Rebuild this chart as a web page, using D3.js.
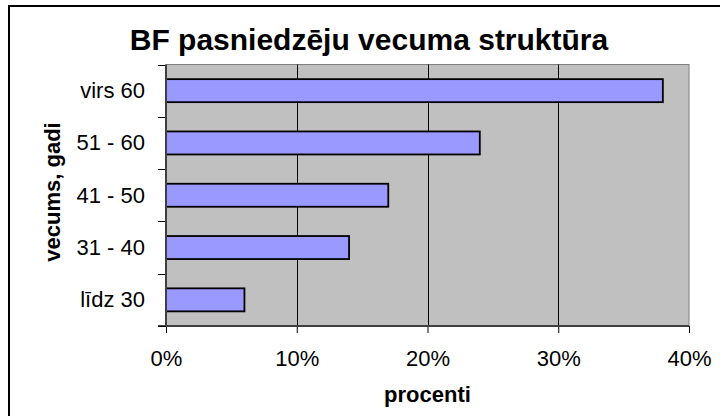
<!DOCTYPE html>
<html>
<head>
<meta charset="utf-8">
<script src="https://cdn.jsdelivr.net/npm/d3@7"></script>
<style>
  body { margin: 0; background: #fff; }
  text { font-family: "Liberation Sans", Arial, sans-serif; fill: #000; }
</style>
</head>
<body>
<div id="chart"></div>
<script>
// data (top to bottom)
var categories = ["virs 60", "51 - 60", "41 - 50", "31 - 40", "līdz 30"];
var values = [38, 24, 17, 14, 6];
var xTicks = [0, 10, 20, 30, 40];
var titleText = "BF pasniedzēju vecuma struktūra";
var xTitle = "procenti";
var yTitle = "vecums, gadi";

var width = 720, height = 416;
var plot = {left: 166, top: 64.5, right: 689, bottom: 326};

var svg = d3.select("#chart").append("svg")
    .attr("width", width)
    .attr("height", height);

// outer frame
svg.append("rect")
    .attr("x", 9).attr("y", 6)
    .attr("width", 740).attr("height", 440)
    .attr("fill", "#fff")
    .attr("stroke", "#000")
    .attr("stroke-width", 2);

var x = d3.scaleLinear().domain([0, 40]).range([plot.left, plot.right]);
var y = d3.scaleBand().domain(categories)
    .range([plot.top, plot.bottom])
    .paddingInner(0.56)
    .paddingOuter(0.28);

// plot area
svg.append("rect")
    .attr("x", plot.left).attr("y", plot.top)
    .attr("width", plot.right - plot.left)
    .attr("height", plot.bottom - plot.top)
    .attr("fill", "#c0c0c0")
    .attr("stroke", "#808080")
    .attr("stroke-width", 1);

// vertical gridlines
svg.append("g").selectAll("line")
    .data(xTicks.slice(1, -1))
    .enter().append("line")
    .attr("x1", function(d) { return Math.round(x(d)) + 0.5; })
    .attr("x2", function(d) { return Math.round(x(d)) + 0.5; })
    .attr("y1", plot.top)
    .attr("y2", plot.bottom)
    .attr("stroke", "#000")
    .attr("stroke-width", 1);

// bars
svg.append("g").selectAll("rect")
    .data(values)
    .enter().append("rect")
    .attr("x", x(0))
    .attr("y", function(d, i) { return y(categories[i]); })
    .attr("width", function(d) { return x(d) - x(0); })
    .attr("height", y.bandwidth())
    .attr("fill", "#9999ff")
    .attr("stroke", "#000")
    .attr("stroke-width", 1.8);

// x axis
var xAxis = d3.axisBottom(x)
    .tickValues(xTicks)
    .tickFormat(function(d) { return d + "%"; })
    .tickSize(7)
    .tickPadding(17);
var gx = svg.append("g")
    .attr("transform", "translate(0," + plot.bottom + ")")
    .call(xAxis);
gx.select(".domain").remove();
gx.selectAll(".tick line").attr("stroke", "#000");
gx.selectAll(".tick text")
    .style("font-size", "22px")
    .attr("fill", "#000");
gx.append("line")
    .attr("x1", plot.left - 8).attr("x2", plot.right)
    .attr("y1", 0).attr("y2", 0)
    .attr("stroke", "#404040")
    .attr("stroke-width", 2);

// y axis: ticks sit between the categories
var step = y.step();
var yTickPos = d3.range(categories.length + 1).map(function(i) {
    return plot.top + i * step;
});
var gy = svg.append("g");
gy.selectAll("line.tk")
    .data(yTickPos)
    .enter().append("line")
    .attr("class", "tk")
    .attr("x1", plot.left - 8).attr("x2", plot.left)
    .attr("y1", function(d) { return Math.round(d) + 0.5; })
    .attr("y2", function(d) { return Math.round(d) + 0.5; })
    .attr("stroke", "#000");
gy.append("line")
    .attr("x1", plot.left).attr("x2", plot.left)
    .attr("y1", plot.top).attr("y2", plot.bottom)
    .attr("stroke", "#404040")
    .attr("stroke-width", 2);
gy.selectAll("text")
    .data(categories)
    .enter().append("text")
    .attr("x", 145)
    .attr("y", function(d) { return y(d) + y.bandwidth() / 2; })
    .attr("dy", "0.33em")
    .attr("text-anchor", "end")
    .style("font-size", "22px")
    .text(function(d) { return d; });

// titles
svg.append("text")
    .attr("x", 369).attr("y", 50)
    .attr("text-anchor", "middle")
    .style("font-size", "30px")
    .style("font-weight", "bold")
    .text(titleText);

svg.append("text")
    .attr("x", (plot.left + plot.right) / 2).attr("y", 402)
    .attr("text-anchor", "middle")
    .style("font-size", "22px")
    .style("font-weight", "bold")
    .text(xTitle);

svg.append("text")
    .attr("transform", "translate(60," + 192 + ") rotate(-90)")
    .attr("text-anchor", "middle")
    .style("font-size", "22px")
    .style("font-weight", "bold")
    .text(yTitle);
</script>
</body>
</html>
